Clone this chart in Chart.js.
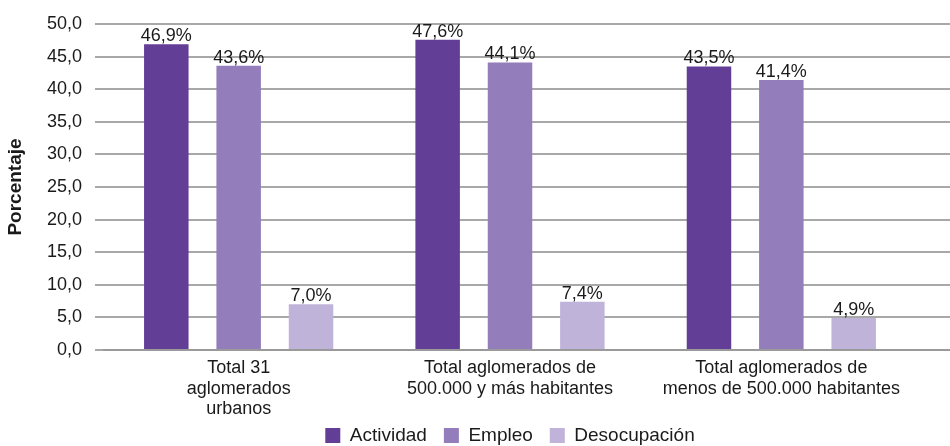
<!DOCTYPE html>
<html>
<head>
<meta charset="utf-8">
<script src="https://cdn.jsdelivr.net/npm/chart.js@4"></script>
<style>
  html, body { margin: 0; padding: 0; background: #fff; }
  #wrap { width: 950px; height: 446px; }
</style>
</head>
<body>
<div id="wrap"><canvas id="chart" width="950" height="446"></canvas></div>
<script>
// Data
const categories = [
    ["Total 31", "aglomerados", "urbanos"],
    ["Total aglomerados de", "500.000 y más habitantes"],
    ["Total aglomerados de", "menos de 500.000 habitantes"]
];
const actividad = [46.9, 47.6, 43.5];
const empleo = [43.6, 44.1, 41.4];
const desocupacion = [7.0, 7.4, 4.9];
const yTicks = [0, 5, 10, 15, 20, 25, 30, 35, 40, 45, 50];

const fontFamily = "'Liberation Sans', Arial, Helvetica, sans-serif";
const textColor = "#1a1a1a";
const legendPad = 17;
const bottomPad = -40; // lets the x labels keep 3 lines, legend is placed by hand below

function fmt(v, digits) {
    return v.toFixed(digits).replace(".", ",");
}

// Horizontal grid lines running past the plot edge, like the original
const gridPlugin = {
    id: "wideGrid",
    beforeDatasetsDraw(chart) {
        const ctx = chart.ctx;
        const y = chart.scales.y;
        ctx.save();
        yTicks.forEach(t => {
            const py = Math.round(y.getPixelForValue(t));
            ctx.strokeStyle = t === 0 ? "#9a9a9a" : "#a8a8a8";
            ctx.lineWidth = 2;
            ctx.beginPath();
            ctx.moveTo(chart.chartArea.left, py);
            ctx.lineTo(chart.width, py);
            ctx.stroke();
        });
        ctx.restore();
    }
};

// Value labels above the bars
const valueLabels = {
    id: "valueLabels",
    afterDatasetsDraw(chart) {
        const ctx = chart.ctx;
        ctx.save();
        ctx.font = "18px " + fontFamily;
        ctx.fillStyle = textColor;
        ctx.textAlign = "center";
        ctx.textBaseline = "alphabetic";
        chart.data.datasets.forEach((ds, i) => {
            chart.getDatasetMeta(i).data.forEach((bar, j) => {
                ctx.fillText(fmt(ds.data[j], 1) + "%", bar.x, bar.y - 3);
            });
        });
        ctx.restore();
    }
};

// Center the legend under the plot area and put it near the bottom edge
const legendShift = {
    id: "legendShift",
    beforeDraw(chart) {
        const lg = chart.legend;
        lg.left = chart.chartArea.left;
        lg.right = chart.chartArea.right;
        lg.top = 426 - legendPad;
    }
};

new Chart(document.getElementById("chart"), {
    type: "bar",
    data: {
        labels: categories,
        datasets: [
            { label: "Actividad", data: actividad, backgroundColor: "#633e96" },
            { label: "Empleo", data: empleo, backgroundColor: "#937dbb" },
            { label: "Desocupación", data: desocupacion, backgroundColor: "#c0b3da" }
        ]
    },
    options: {
        responsive: false,
        animation: false,
        categoryPercentage: 0.8,
        barPercentage: 0.615,
        layout: { padding: { top: 24, right: 33, bottom: bottomPad, left: 0 } },
        plugins: {
            tooltip: { enabled: false },
            legend: {
                position: "bottom",
                labels: {
                    boxWidth: 15,
                    boxHeight: 15,
                    padding: legendPad,
                    color: textColor,
                    font: { family: fontFamily, size: 19 }
                }
            }
        },
        scales: {
            x: {
                grid: { display: false },
                border: { display: false },
                ticks: {
                    color: textColor,
                    padding: 0,
                    maxRotation: 0,
                    autoSkip: false,
                    font: { family: fontFamily, size: 18, lineHeight: 1.14 }
                },
                afterFit(scale) { scale.height = 96 - bottomPad - scale.chart.legend.height; }
            },
            y: {
                min: 0,
                max: 50,
                afterBuildTicks(scale) {
                    scale.ticks = yTicks.map(v => ({ value: v }));
                },
                grid: {
                    drawOnChartArea: false,
                    drawTicks: true,
                    tickLength: 8,
                    color: "#a8a8a8",
                    lineWidth: 2
                },
                border: { display: false },
                ticks: {
                    color: textColor,
                    padding: 13,
                    font: { family: fontFamily, size: 18 },
                    callback: v => fmt(v, 1)
                },
                title: {
                    display: true,
                    text: "Porcentaje",
                    color: textColor,
                    padding: { top: 4, bottom: 0 },
                    font: { family: fontFamily, size: 19, weight: "bold" }
                },
                afterFit(scale) { scale.width = 103; }
            }
        }
    },
    plugins: [gridPlugin, valueLabels, legendShift]
});
</script>
</body>
</html>
